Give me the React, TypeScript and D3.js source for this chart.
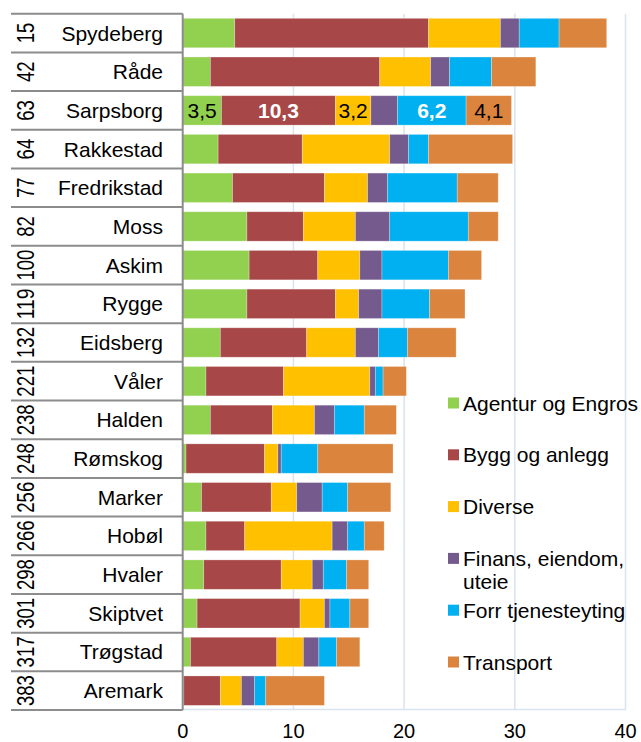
import React from "react";
import * as d3 from "d3";

// ranking + municipality (top to bottom)
const ranks = [15, 42, 63, 64, 77, 82, 100, 119, 132, 221, 238, 248, 256, 266, 298, 301, 317, 383];
const names = [
  "Spydeberg", "Råde", "Sarpsborg", "Rakkestad", "Fredrikstad", "Moss", "Askim", "Rygge", "Eidsberg",
  "Våler", "Halden", "Rømskog", "Marker", "Hobøl", "Hvaler", "Skiptvet", "Trøgstad", "Aremark",
];

const seriesNames = [
  "Agentur og Engros", "Bygg og anlegg", "Diverse", "Finans, eiendom, uteie", "Forr tjenesteyting", "Transport",
];
const seriesColors = ["#92D050", "#A84747", "#FFC000", "#755A8E", "#00B0F0", "#DA843E"];

const agentur = [4.7, 2.5, 3.5, 3.2, 4.5, 5.8, 6.0, 5.8, 3.4, 2.1, 2.5, 0.3, 1.7, 2.1, 1.9, 1.3, 0.7, 0.1];
const bygg = [17.5, 15.3, 10.3, 7.6, 8.3, 5.1, 6.2, 8.0, 7.8, 7.0, 5.6, 7.1, 6.3, 3.5, 7.0, 9.3, 7.8, 3.3];
const diverse = [6.5, 4.6, 3.2, 7.9, 3.9, 4.7, 3.8, 2.1, 4.4, 7.8, 3.8, 1.2, 2.3, 7.9, 2.8, 2.2, 2.4, 1.9];
const finans = [1.7, 1.7, 2.4, 1.7, 1.8, 3.1, 2.0, 2.1, 2.1, 0.5, 1.8, 0.3, 2.3, 1.4, 1.0, 0.5, 1.4, 1.2];
const forr = [3.6, 3.8, 6.2, 1.8, 6.3, 7.1, 6.0, 4.3, 2.6, 0.7, 2.7, 3.3, 2.3, 1.5, 2.1, 1.8, 1.6, 1.0];
const transport = [4.3, 4.0, 4.1, 7.6, 3.7, 2.7, 3.0, 3.2, 4.4, 2.1, 2.9, 6.8, 3.9, 1.8, 2.0, 1.7, 2.1, 5.3];

// data labels shown only on Sarpsborg (purple one is not labelled in the original)
const labelledRow = "Sarpsborg";
const labelledSeries = [0, 1, 2, 4, 5];
const whiteLabelSeries = [1, 4];

const xTicks = [0, 10, 20, 30, 40];

const W = 641;
const H = 742;
const FONT = "'Liberation Sans', Arial, sans-serif";
const GRID = "#D9E2EF";
const AXIS = "#8C8C8C";

const App = () => {
  const values = [agentur, bygg, diverse, finans, forr, transport];
  const rows = names.map((name, i) => {
    const r: any = { name };
    seriesNames.forEach((s, k) => (r[s] = values[k][i]));
    return r;
  });
  const stacked = d3.stack<any>().keys(seriesNames)(rows);

  const x = d3.scaleLinear().domain([0, 40]).range([182.7, 625.5]);
  const rowBand = d3.scaleBand().domain(names).range([13.7, 710]);
  const y = d3.scaleBand().domain(names).range([13.7, 710]).paddingInner(0.24).paddingOuter(0.12);
  const legendY = d3.scalePoint().domain(seriesNames).range([403, 662]);

  const top = rowBand.range()[0];
  const bottom = rowBand.range()[1];
  const fmt = (v: number) => v.toFixed(1).replace(".", ",");

  return (
    <svg width={W} height={H} style={{ position: "absolute", left: 0, top: 0, background: "#fff" }} fontFamily={FONT}>
      {/* gridlines */}
      {xTicks.filter((t) => t > 0).map((t) => (
        <line key={t} x1={x(t)} x2={x(t)} y1={top} y2={bottom} stroke={GRID} strokeWidth={1.5} />
      ))}
      <line x1={x(0)} x2={x(40)} y1={bottom - 0.5} y2={bottom - 0.5} stroke={GRID} strokeWidth={1.5} />

      {/* bars */}
      {stacked.map((layer, k) => (
        <g key={layer.key} fill={seriesColors[k]}>
          {layer.map((d: any, i) => (
            <rect
              key={i}
              x={x(d[0])}
              y={y(names[i])}
              width={Math.max(0, x(d[1]) - x(d[0]))}
              height={y.bandwidth()}
              stroke="rgba(255,255,255,0.35)"
              strokeWidth={0.75}
            />
          ))}
        </g>
      ))}

      {/* data labels */}
      {stacked.map((layer, k) => {
        const i = names.indexOf(labelledRow);
        if (!labelledSeries.includes(k)) return null;
        const d: any = layer[i];
        const white = whiteLabelSeries.includes(k);
        return (
          <text
            key={"lab" + k}
            x={(x(d[0]) + x(d[1])) / 2}
            y={(y(labelledRow) as number) + y.bandwidth() / 2 + 7.5}
            textAnchor="middle"
            fontSize={21}
            fontWeight={white ? "bold" : "normal"}
            fill={white ? "#fff" : "#000"}
          >
            {fmt(d[1] - d[0])}
          </text>
        );
      })}

      {/* category table on the left */}
      {names.map((n, i) => {
        const r0 = rowBand(n) as number;
        const cy = r0 + rowBand.bandwidth() / 2;
        const rs = String(ranks[i]);
        return (
          <g key={n}>
            <line x1={11} x2={182.7} y1={r0} y2={r0} stroke={AXIS} strokeWidth={2} />
            <text x={163} y={cy + 7.5} textAnchor="end" fontSize={21} fill="#000">
              {n}
            </text>
            <text
              transform={`translate(33.5,${cy}) rotate(-90)`}
              textAnchor="middle"
              fontSize={23}
              textLength={rs.length * 10.3}
              lengthAdjust="spacingAndGlyphs"
              fill="#000"
            >
              {rs}
            </text>
          </g>
        );
      })}
      <line x1={11} x2={182.7} y1={bottom} y2={bottom} stroke={AXIS} strokeWidth={2} />
      <line x1={182.7} x2={182.7} y1={top} y2={bottom} stroke={AXIS} strokeWidth={2} />

      {/* x tick labels */}
      {xTicks.map((t) => (
        <text key={"t" + t} x={x(t)} y={738} textAnchor="middle" fontSize={20} fill="#000">
          {t}
        </text>
      ))}

      {/* legend */}
      {seriesNames.map((s, k) => {
        const cy = legendY(s) as number;
        const lines = s === "Finans, eiendom, uteie" ? ["Finans, eiendom,", "uteie"] : [s];
        return (
          <g key={"lg" + s}>
            <rect x={448} y={cy - 5.5} width={11} height={11} fill={seriesColors[k]} />
            <text x={463} y={cy + 7.5} fontSize={21} fill="#000">
              {lines.map((l, j) => (
                <tspan key={j} x={463} dy={j === 0 ? 0 : 23.5}>
                  {l}
                </tspan>
              ))}
            </text>
          </g>
        );
      })}
    </svg>
  );
};

export default App;
